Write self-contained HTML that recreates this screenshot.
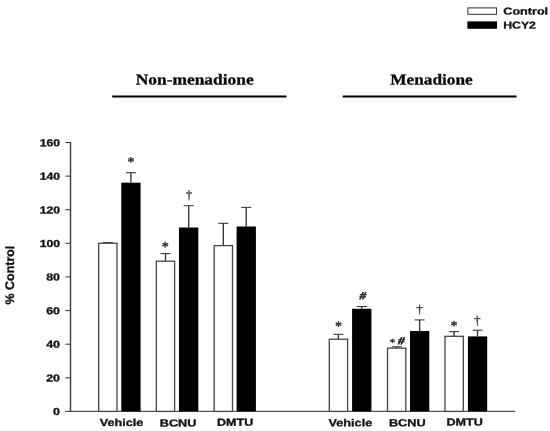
<!DOCTYPE html>
<html lang="en">
<head>
<meta charset="utf-8">
<title>% Control chart</title>
<style>
html,body{margin:0;padding:0;background:#fff;}
body{width:550px;height:431px;overflow:hidden;}
svg{display:block;text-rendering:geometricPrecision;}
.s{font-family:"Liberation Sans",Arial,Helvetica,sans-serif;font-weight:bold;fill:#111;stroke:#111;stroke-width:0.3px;}
.t{font-family:"Liberation Serif","Times New Roman",Times,serif;font-weight:bold;fill:#0a0a0a;stroke:#0a0a0a;stroke-width:0.3px;}
.m{font-family:"Liberation Serif","DejaVu Serif",serif;fill:#333;stroke:#333;}
.h{font-family:"Liberation Serif","Times New Roman",Times,serif;font-style:italic;font-weight:bold;fill:#1a1a1a;stroke:#1a1a1a;stroke-width:0.45px;}
</style>
</head>
<body>
<svg width="550" height="431" viewBox="0 0 550 431">
<rect x="0" y="0" width="550" height="431" fill="#ffffff"/>

<g>
<rect x="467.9" y="7.9" width="28.6" height="6.4" fill="#fff" stroke="#333" stroke-width="1"/>
<rect x="467.4" y="21.4" width="29.6" height="7.4" fill="#000"/>
<text class="s" x="503.3" y="14.4" font-size="9.9" textLength="44.8" lengthAdjust="spacingAndGlyphs" transform="rotate(0.03 503.3 14.4)">Control</text>
<text class="s" x="503.3" y="28.4" font-size="9.9" textLength="32.6" lengthAdjust="spacingAndGlyphs" transform="rotate(0.03 503.3 28.4)">HCY2</text>
</g>
<g>
<text class="t" x="135.7" y="84.5" font-size="15.2" textLength="118" lengthAdjust="spacingAndGlyphs" transform="rotate(0.03 135.7 84.5)">Non-menadione</text>
<line x1="112.2" y1="96.5" x2="286.5" y2="96.5" stroke="#000" stroke-width="2"/>
<text class="t" x="390.3" y="84.5" font-size="15.2" textLength="82.4" lengthAdjust="spacingAndGlyphs" transform="rotate(0.03 390.3 84.5)">Menadione</text>
<line x1="342.7" y1="96.5" x2="516.5" y2="96.5" stroke="#000" stroke-width="2"/>
</g>
<g fill="none">
<line x1="70.5" y1="142.0" x2="70.5" y2="412.0" stroke="#444" stroke-width="1.5"/>
<line x1="70" y1="411.4" x2="515.2" y2="411.4" stroke="#555" stroke-width="1.15"/>
<line x1="65.3" y1="411.4" x2="70.4" y2="411.4" stroke="#333" stroke-width="1"/>
<line x1="65.3" y1="377.8" x2="70.4" y2="377.8" stroke="#333" stroke-width="1"/>
<line x1="65.3" y1="344.2" x2="70.4" y2="344.2" stroke="#333" stroke-width="1"/>
<line x1="65.3" y1="310.6" x2="70.4" y2="310.6" stroke="#333" stroke-width="1"/>
<line x1="65.3" y1="276.9" x2="70.4" y2="276.9" stroke="#333" stroke-width="1"/>
<line x1="65.3" y1="243.3" x2="70.4" y2="243.3" stroke="#333" stroke-width="1"/>
<line x1="65.3" y1="209.7" x2="70.4" y2="209.7" stroke="#333" stroke-width="1"/>
<line x1="65.3" y1="176.1" x2="70.4" y2="176.1" stroke="#333" stroke-width="1"/>
<line x1="65.3" y1="142.5" x2="70.4" y2="142.5" stroke="#333" stroke-width="1"/>
</g>
<g>
<text class="s" x="53.1" y="415.0" font-size="10.2" textLength="6.9" lengthAdjust="spacingAndGlyphs" transform="rotate(0.03 53.1 415.0)">0</text>
<text class="s" x="46.2" y="381.4" font-size="10.2" textLength="13.8" lengthAdjust="spacingAndGlyphs" transform="rotate(0.03 46.2 381.4)">20</text>
<text class="s" x="46.2" y="347.8" font-size="10.2" textLength="13.8" lengthAdjust="spacingAndGlyphs" transform="rotate(0.03 46.2 347.8)">40</text>
<text class="s" x="46.2" y="314.2" font-size="10.2" textLength="13.8" lengthAdjust="spacingAndGlyphs" transform="rotate(0.03 46.2 314.2)">60</text>
<text class="s" x="46.2" y="280.6" font-size="10.2" textLength="13.8" lengthAdjust="spacingAndGlyphs" transform="rotate(0.03 46.2 280.6)">80</text>
<text class="s" x="39.7" y="247.0" font-size="10.2" textLength="20.3" lengthAdjust="spacingAndGlyphs" transform="rotate(0.03 39.7 247.0)">100</text>
<text class="s" x="39.7" y="213.4" font-size="10.2" textLength="20.3" lengthAdjust="spacingAndGlyphs" transform="rotate(0.03 39.7 213.4)">120</text>
<text class="s" x="39.7" y="179.8" font-size="10.2" textLength="20.3" lengthAdjust="spacingAndGlyphs" transform="rotate(0.03 39.7 179.8)">140</text>
<text class="s" x="39.7" y="146.2" font-size="10.2" textLength="20.3" lengthAdjust="spacingAndGlyphs" transform="rotate(0.03 39.7 146.2)">160</text>
<text class="s" transform="translate(14.1 304.4) rotate(-89.97)" font-size="12.5" textLength="58.7" lengthAdjust="spacingAndGlyphs">% Control</text>
</g>
<g>
<path d="M107.9 243.2V242.6" stroke="#333" stroke-width="1.35" fill="none"/>
<path d="M102.9 242.6H112.9" stroke="#333" stroke-width="1.05" fill="none"/>
<rect x="98.7" y="243.2" width="18.3" height="168.2" fill="#fff" stroke="#444" stroke-width="1.3"/>
<path d="M130.9 182.7V172.7" stroke="#333" stroke-width="1.35" fill="none"/>
<path d="M125.9 172.7H135.9" stroke="#333" stroke-width="1.05" fill="none"/>
<rect x="121.3" y="182.7" width="19.3" height="228.7" fill="#000"/>
<path d="M165.5 261.2V253.6" stroke="#333" stroke-width="1.35" fill="none"/>
<path d="M160.5 253.6H170.5" stroke="#333" stroke-width="1.05" fill="none"/>
<rect x="156.3" y="261.2" width="18.3" height="150.2" fill="#fff" stroke="#444" stroke-width="1.3"/>
<path d="M188.7 227.5V205.7" stroke="#333" stroke-width="1.35" fill="none"/>
<path d="M183.7 205.7H193.7" stroke="#333" stroke-width="1.05" fill="none"/>
<rect x="179.0" y="227.5" width="19.3" height="183.9" fill="#000"/>
<path d="M223.3 245.6V223.3" stroke="#333" stroke-width="1.35" fill="none"/>
<path d="M218.3 223.3H228.3" stroke="#333" stroke-width="1.05" fill="none"/>
<rect x="214.2" y="245.6" width="18.3" height="165.8" fill="#fff" stroke="#444" stroke-width="1.3"/>
<path d="M246.2 226.5V207.4" stroke="#333" stroke-width="1.35" fill="none"/>
<path d="M241.2 207.4H251.2" stroke="#333" stroke-width="1.05" fill="none"/>
<rect x="236.6" y="226.5" width="19.3" height="184.9" fill="#000"/>
<path d="M338.4 339.2V334.3" stroke="#333" stroke-width="1.35" fill="none"/>
<path d="M333.4 334.3H343.4" stroke="#333" stroke-width="1.05" fill="none"/>
<rect x="329.3" y="339.2" width="18.3" height="72.2" fill="#fff" stroke="#444" stroke-width="1.3"/>
<path d="M361.8 308.8V306.5" stroke="#333" stroke-width="1.35" fill="none"/>
<path d="M356.8 306.5H366.8" stroke="#333" stroke-width="1.05" fill="none"/>
<rect x="352.1" y="308.8" width="19.3" height="102.6" fill="#000"/>
<path d="M396.6 348.1V346.8" stroke="#333" stroke-width="1.35" fill="none"/>
<path d="M391.6 346.8H401.6" stroke="#333" stroke-width="1.05" fill="none"/>
<rect x="387.5" y="348.1" width="18.3" height="63.3" fill="#fff" stroke="#444" stroke-width="1.3"/>
<path d="M419.6 331.0V319.9" stroke="#333" stroke-width="1.35" fill="none"/>
<path d="M414.6 319.9H424.6" stroke="#333" stroke-width="1.05" fill="none"/>
<rect x="410.0" y="331.0" width="19.3" height="80.4" fill="#000"/>
<path d="M454.1 336.3V331.6" stroke="#333" stroke-width="1.35" fill="none"/>
<path d="M449.1 331.6H459.1" stroke="#333" stroke-width="1.05" fill="none"/>
<rect x="445.0" y="336.3" width="18.3" height="75.1" fill="#fff" stroke="#444" stroke-width="1.3"/>
<path d="M477.5 336.4V330.2" stroke="#333" stroke-width="1.35" fill="none"/>
<path d="M472.5 330.2H482.5" stroke="#333" stroke-width="1.05" fill="none"/>
<rect x="467.9" y="336.4" width="19.3" height="75.0" fill="#000"/>
</g>
<g>
<text class="s" x="99.8" y="426.1" font-size="10.2" textLength="43.5" lengthAdjust="spacingAndGlyphs" transform="rotate(0.03 99.8 426.1)">Vehicle</text>
<text class="s" x="159.7" y="426.4" font-size="10.2" textLength="36.8" lengthAdjust="spacingAndGlyphs" transform="rotate(0.03 159.7 426.4)">BCNU</text>
<text class="s" x="217.0" y="425.7" font-size="10.2" textLength="36.2" lengthAdjust="spacingAndGlyphs" transform="rotate(0.03 217.0 425.7)">DMTU</text>
<text class="s" x="328.6" y="426.2" font-size="10.2" textLength="43.6" lengthAdjust="spacingAndGlyphs" transform="rotate(0.03 328.6 426.2)">Vehicle</text>
<text class="s" x="388.9" y="426.3" font-size="10.2" textLength="36.8" lengthAdjust="spacingAndGlyphs" transform="rotate(0.03 388.9 426.3)">BCNU</text>
<text class="s" x="446.4" y="425.4" font-size="10.2" textLength="36.4" lengthAdjust="spacingAndGlyphs" transform="rotate(0.03 446.4 425.4)">DMTU</text>
</g>
<g text-anchor="middle">
<text class="m" x="131" y="166.4" font-size="14" stroke-width="0.45" transform="rotate(0.03 131 166.4)">*</text>
<text class="m" x="165.2" y="251.2" font-size="14" stroke-width="0.45" transform="rotate(0.03 165.2 251.2)">*</text>
<text class="m" x="189.1" y="198.9" font-size="12.5" stroke-width="0.25" textLength="6.6" lengthAdjust="spacingAndGlyphs" transform="rotate(0.03 189.1 198.9)">†</text>
<text class="m" x="338.4" y="330.8" font-size="14" stroke-width="0.45" transform="rotate(0.03 338.4 330.8)">*</text>
<text class="h" x="362.8" y="299.2" font-size="10.6" textLength="6.6" lengthAdjust="spacingAndGlyphs" transform="rotate(0.03 362.8 299.2)">#</text>
<text class="m" x="392.6" y="345.5" font-size="10" stroke-width="0.45" transform="rotate(0.03 392.6 345.5)">*</text>
<text class="h" x="401.4" y="344.3" font-size="10.6" textLength="6.6" lengthAdjust="spacingAndGlyphs" transform="rotate(0.03 401.4 344.3)">#</text>
<text class="m" x="419.6" y="313.6" font-size="12.5" stroke-width="0.25" textLength="6.6" lengthAdjust="spacingAndGlyphs" transform="rotate(0.03 419.6 313.6)">†</text>
<text class="m" x="454.1" y="330.3" font-size="14" stroke-width="0.45" transform="rotate(0.03 454.1 330.3)">*</text>
<text class="m" x="477.4" y="324.5" font-size="12.5" stroke-width="0.25" textLength="6.6" lengthAdjust="spacingAndGlyphs" transform="rotate(0.03 477.4 324.5)">†</text>
</g>
</svg>
</body>
</html>
